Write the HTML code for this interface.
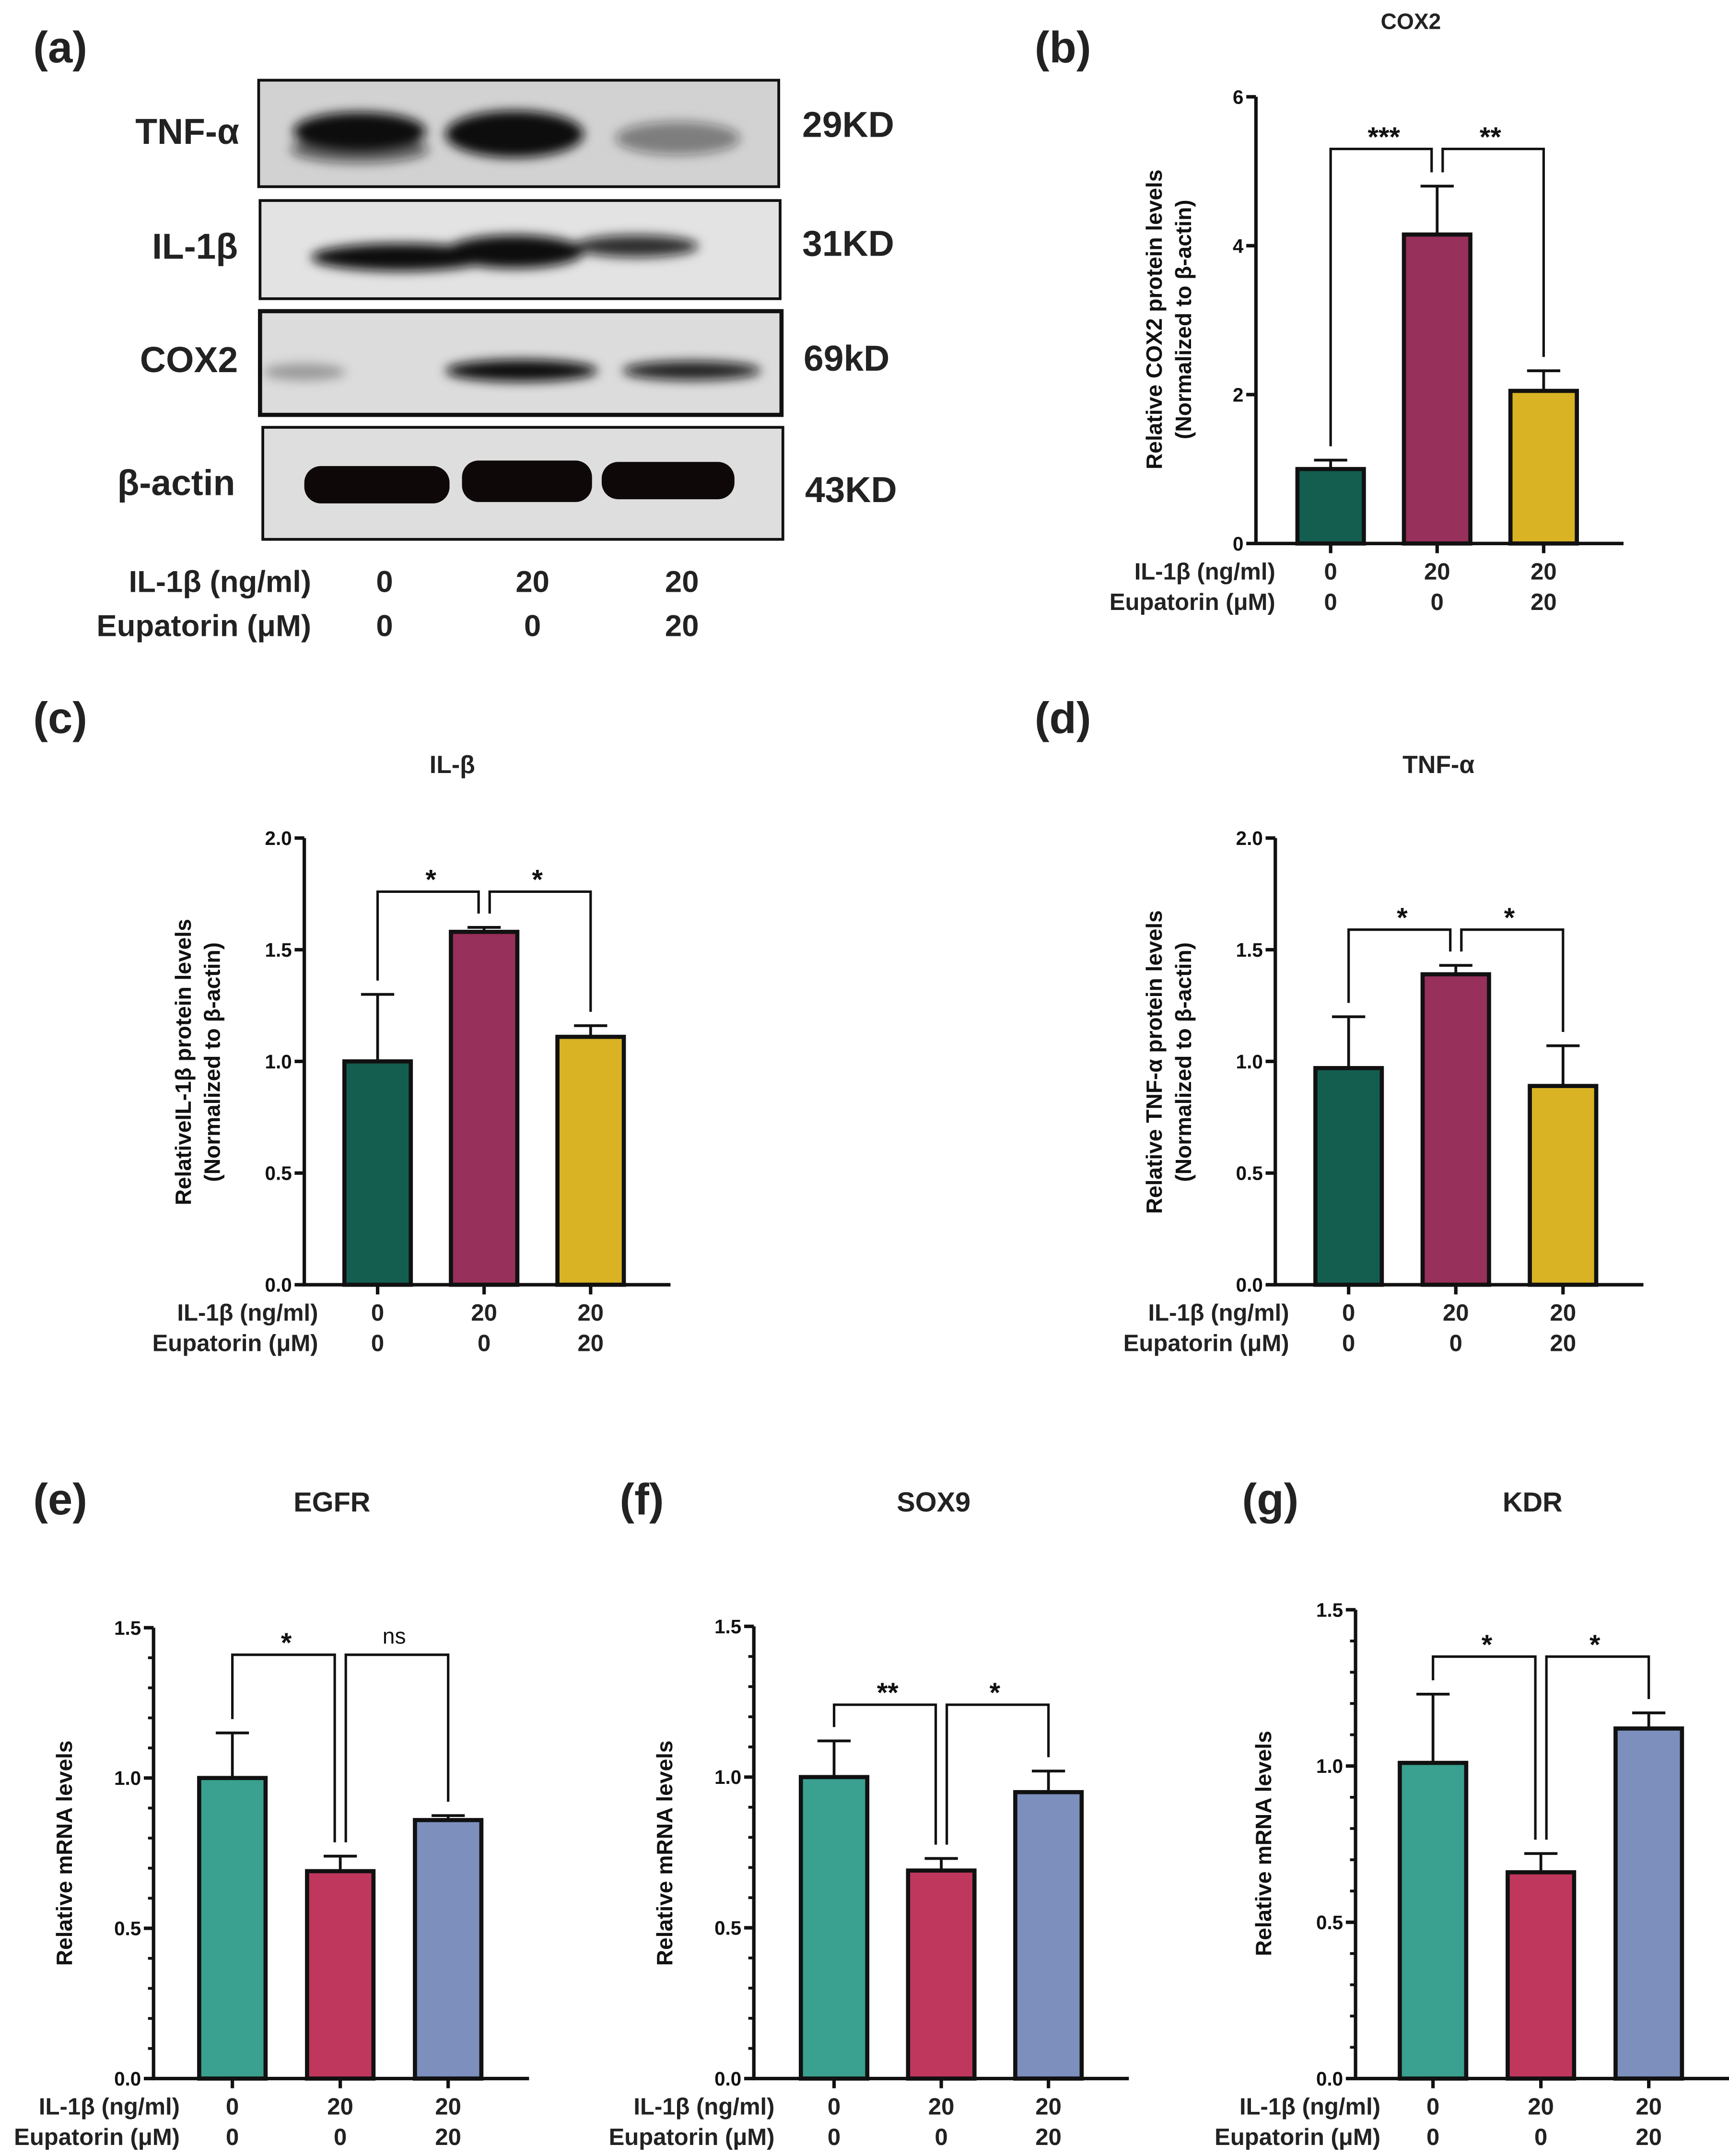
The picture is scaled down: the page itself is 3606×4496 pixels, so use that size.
<!DOCTYPE html>
<html><head><meta charset="utf-8"><style>
html,body{margin:0;padding:0;background:#fff;}
svg{display:block;font-family:"Liberation Sans",Arial,sans-serif;}
</style></head><body>
<svg id="fig" width="3606" height="4496" viewBox="0 0 1250 1559" preserveAspectRatio="none" xmlns="http://www.w3.org/2000/svg">
<defs>
<filter id="blur" x="-20%" y="-50%" width="140%" height="200%"><feGaussianBlur stdDeviation="4"/></filter>
<filter id="blur2" x="-20%" y="-50%" width="140%" height="200%"><feGaussianBlur stdDeviation="7"/></filter>
</defs>
<g font-weight="bold" fill="#222">
<text x="24" y="45" font-size="32">(a)</text>
<rect x="187" y="58" width="376" height="77" fill="#d2d2d2" stroke="#111" stroke-width="2"/>
<g filter="url(#blur)" fill="#111">
<ellipse cx="260" cy="95" rx="48" ry="14"/><ellipse cx="260" cy="108" rx="50" ry="10" opacity="0.6"/>
<ellipse cx="372" cy="97" rx="50" ry="17"/>
<ellipse cx="490" cy="100" rx="45" ry="12" opacity="0.45"/>
</g>
<rect x="188" y="145" width="376" height="71" fill="#e3e3e3" stroke="#111" stroke-width="2"/>
<g filter="url(#blur)" fill="#111">
<ellipse cx="290" cy="186" rx="65" ry="10"/><ellipse cx="372" cy="182" rx="50" ry="12"/><ellipse cx="460" cy="178" rx="45" ry="8" opacity="0.85"/>
</g>
<rect x="188" y="225" width="377" height="75" fill="#dcdcdc" stroke="#111" stroke-width="3"/>
<g filter="url(#blur)" fill="#111">
<ellipse cx="220" cy="269" rx="30" ry="6" opacity="0.3"/><ellipse cx="377" cy="268" rx="55" ry="8"/><ellipse cx="500" cy="268" rx="50" ry="7" opacity="0.9"/>
</g>
<rect x="190" y="309" width="376" height="81" fill="#dedede" stroke="#111" stroke-width="2"/>
<g fill="#0e0808">
<rect x="220" y="337" width="105" height="27" rx="12"/><rect x="334" y="333" width="94" height="30" rx="12"/><rect x="435" y="334" width="96" height="27" rx="12"/>
</g>
<g font-size="26" text-anchor="end">
<text x="173" y="104">TNF-α</text>
<text x="172" y="187">IL-1β</text>
<text x="172" y="269">COX2</text>
<text x="170" y="358">β-actin</text>
</g>
<g font-size="26">
<text x="580" y="99">29KD</text>
<text x="580" y="185">31KD</text>
<text x="581" y="268">69kD</text>
<text x="582" y="363">43KD</text>
</g>
<g font-size="22">
<text x="225" y="428" text-anchor="end">IL-1β (ng/ml)</text>
<text x="225" y="460" text-anchor="end">Eupatorin (μM)</text>
<g text-anchor="middle">
<text x="278" y="428">0</text><text x="385" y="428">20</text><text x="493" y="428">20</text>
<text x="278" y="460">0</text><text x="385" y="460">0</text><text x="493" y="460">20</text>
</g></g>
<text x="748" y="45" font-size="32">(b)</text>
<text x="24" y="530" font-size="32">(c)</text>
<text x="748" y="530" font-size="32">(d)</text>
<text x="24" y="1095" font-size="32">(e)</text>
<text x="448" y="1095" font-size="32">(f)</text>
<text x="898" y="1095" font-size="32">(g)</text>
</g>
<g id="charts"></g>
</svg>
<script>
// ---- data ----
const categories = ["ctrl", "il1b", "il1b_eup"];
const il1bDose = ["0", "20", "20"];
const eupDose = ["0", "0", "20"];
const cox2Values = [1.0, 4.15, 2.05];
const cox2Errors = [0.12, 0.65, 0.27];
const cox2Ticks = [0, 2, 4, 6];
const cox2Sig = ["***", "**"];
const il1bValues = [1.0, 1.58, 1.11];
const il1bErrors = [0.30, 0.02, 0.05];
const il1bTicks = ["0.0", "0.5", "1.0", "1.5", "2.0"];
const il1bSig = ["*", "*"];
const tnfValues = [0.97, 1.39, 0.89];
const tnfErrors = [0.23, 0.04, 0.18];
const tnfTicks = ["0.0", "0.5", "1.0", "1.5", "2.0"];
const tnfSig = ["*", "*"];
const egfrValues = [1.0, 0.69, 0.86];
const egfrErrors = [0.15, 0.05, 0.015];
const egfrSig = ["*", "ns"];
const sox9Values = [1.0, 0.69, 0.95];
const sox9Errors = [0.12, 0.04, 0.07];
const sox9Sig = ["**", "*"];
const kdrValues = [1.01, 0.66, 1.12];
const kdrErrors = [0.22, 0.06, 0.05];
const kdrSig = ["*", "*"];
const mrnaTicks = ["0.0", "0.5", "1.0", "1.5"];

const NS = "http://www.w3.org/2000/svg";
const root = document.getElementById("charts");
function mk(tag, attrs, parent, txt) {
  const e = document.createElementNS(NS, tag);
  for (const k in attrs) e.setAttribute(k, attrs[k]);
  if (txt !== undefined) e.textContent = txt;
  parent.appendChild(e);
  return e;
}
function chart(cfg) {
  const g = mk("g", {}, root);
  
  
  const ticks = cfg.ticks.map(Number);
  const ymax = ticks[ticks.length - 1];
  const y = v => cfg.bottom - (v / ymax) * (cfg.bottom - cfg.top);
  const x = i => cfg.cx0 + i * cfg.step;
  const xr = x(2) + cfg.step * 0.75;
  // axes
  const ax = mk("path", {d: `M${cfg.ax} ${cfg.top} V${cfg.bottom} H${xr}`, fill: "none", stroke: "#111", "stroke-width": 2.5}, g);
  
  
  // minor ticks
  if (cfg.minor) {
    const n = Math.round(ymax / cfg.minor);
    for (let k = 0; k <= n; k++) {
      mk("line", {x1: cfg.ax - 4, x2: cfg.ax, y1: y(k * cfg.minor), y2: y(k * cfg.minor), stroke: "#111", "stroke-width": 2}, g);
    }
  }
  cfg.ticks.forEach(t => {
    const v = Number(t);
    mk("line", {x1: cfg.ax - 7, x2: cfg.ax, y1: y(v), y2: y(v), stroke: "#111", "stroke-width": 2.5}, g);
    const tl = mk("text", {x: cfg.ax - 9, y: y(v) + 5, "text-anchor": "end", "font-size": 14, "font-weight": "bold", fill: "#111"}, g, t);
    
    
  });
  // bars
  cfg.values.forEach((v, i) => {
    const b = mk("rect", {x: x(i) - 24, y: y(v), width: 48, height: cfg.bottom - y(v), fill: cfg.colors[i], stroke: "#111", "stroke-width": 3}, g);
    
    
    const top = v + cfg.errors[i];
    const eb = mk("path", {d: `M${x(i)} ${y(v)} V${y(top)} M${x(i) - 12} ${y(top)} H${x(i) + 12}`, stroke: "#111", "stroke-width": 2, fill: "none"}, g);
    
    
    mk("line", {x1: x(i), x2: x(i), y1: cfg.bottom, y2: cfg.bottom + 7, stroke: "#111", "stroke-width": 2.5}, g);
    mk("text", {x: x(i), y: cfg.bottom + 26, "text-anchor": "middle", "font-size": 17, "font-weight": "bold", fill: "#222"}, g, il1bDose[i]);
    mk("text", {x: x(i), y: cfg.bottom + 48, "text-anchor": "middle", "font-size": 17, "font-weight": "bold", fill: "#222"}, g, eupDose[i]);
  });
  const r1 = mk("text", {x: cfg.lblX, y: cfg.bottom + 26, "text-anchor": "end", "font-size": 17, "font-weight": "bold", fill: "#222"}, g, "IL-1β (ng/ml)");
  
  
  const r2 = mk("text", {x: cfg.lblX, y: cfg.bottom + 48, "text-anchor": "end", "font-size": 17, "font-weight": "bold", fill: "#222"}, g, "Eupatorin (μM)");
  
  
  // significance brackets
  const by = y(cfg.bracket);
  const gap = 4;
  const tops = cfg.values.map((v, i) => y(v + cfg.errors[i]) - 10);
  const p1 = `M${x(0)} ${tops[0]} V${by} H${x(1) - gap} V${tops[1]}`;
  const p2 = `M${x(1) + gap} ${tops[1]} V${by} H${x(2)} V${tops[2]}`;
  [p1, p2].forEach((p, k) => {
    const br = mk("path", {d: p, fill: "none", stroke: "#111", "stroke-width": 1.8}, g);
    
    
    const mx = k === 0 ? (x(0) + x(1)) / 2 : (x(1) + x(2)) / 2;
    const s = cfg.sig[k];
    const st = mk("text", {x: mx, y: s === "ns" ? by - 8 : by - 2, "text-anchor": "middle", "font-size": s === "ns" ? 16 : 20, "font-weight": s === "ns" ? "normal" : "bold", fill: "#111"}, g, s);
    
    
  });
  // title
  const tt = mk("text", {x: cfg.titleX, y: cfg.titleY, "text-anchor": "middle", "font-size": cfg.titleSize, "font-weight": "bold", fill: "#222"}, g, cfg.title);
  
  
  // y label
  const cy = (cfg.top + cfg.bottom) / 2;
  cfg.ylab.forEach((l, k) => {
    const yl = mk("text", {x: 0, y: 0, transform: `translate(${cfg.ylabX + k * 21},${cfg.ylabY || cy}) rotate(-90)`, "text-anchor": "middle", "font-size": 16, "font-weight": "bold", fill: "#111"}, g, l);
    
    
  });
}
const darkCols = ["#145e50", "#97305a", "#d9b324"];
const mrnaCols = ["#3aa090", "#c0375e", "#7c8fbd"];
chart({name: "chart-cox2", ticks: cox2Ticks.map(String), values: cox2Values, errors: cox2Errors, sig: cox2Sig, bracket: 5.3,
  top: 70, bottom: 393, ax: 908, cx0: 962, step: 77, colors: darkCols, lblX: 922, title: "COX2", titleX: 1020, titleY: 21, titleSize: 16,
  ylab: ["Relative COX2 protein levels", "(Normalized to β-actin)"], ylabX: 840, ylabY: 231});
chart({name: "chart-il1b", ticks: il1bTicks, values: il1bValues, errors: il1bErrors, sig: il1bSig, bracket: 1.76,
  top: 606, bottom: 929, ax: 220, cx0: 273, step: 77, colors: darkCols, lblX: 230, title: "IL-β", titleX: 327, titleY: 559, titleSize: 18,
  ylab: ["RelativeIL-1β protein levels", "(Normalized to β-actin)"], ylabX: 138, ylabY: 768});
chart({name: "chart-tnf", ticks: tnfTicks, values: tnfValues, errors: tnfErrors, sig: tnfSig, bracket: 1.59,
  top: 606, bottom: 929, ax: 922, cx0: 975, step: 77.5, colors: darkCols, lblX: 932, title: "TNF-α", titleX: 1040, titleY: 559, titleSize: 18,
  ylab: ["Relative TNF-α protein levels", "(Normalized to β-actin)"], ylabX: 840, ylabY: 768});
chart({name: "chart-egfr", ticks: mrnaTicks, values: egfrValues, errors: egfrErrors, sig: egfrSig, bracket: 1.41, minor: 0.1,
  top: 1177, bottom: 1503, ax: 111, cx0: 168, step: 78, colors: mrnaCols, lblX: 130, title: "EGFR", titleX: 240, titleY: 1093, titleSize: 20,
  ylab: ["Relative mRNA levels"], ylabX: 52, ylabY: 1340});
chart({name: "chart-sox9", ticks: mrnaTicks, values: sox9Values, errors: sox9Errors, sig: sox9Sig, bracket: 1.24, minor: 0.1,
  top: 1176, bottom: 1503, ax: 545, cx0: 603, step: 77.5, colors: mrnaCols, lblX: 560, title: "SOX9", titleX: 675, titleY: 1093, titleSize: 20,
  ylab: ["Relative mRNA levels"], ylabX: 486, ylabY: 1340});
chart({name: "chart-kdr", ticks: mrnaTicks, values: kdrValues, errors: kdrErrors, sig: kdrSig, bracket: 1.35, minor: 0.1,
  top: 1164, bottom: 1503, ax: 980, cx0: 1036, step: 78, colors: mrnaCols, lblX: 998, title: "KDR", titleX: 1108, titleY: 1093, titleSize: 20,
  ylab: ["Relative mRNA levels"], ylabX: 919, ylabY: 1333});
</script>
</body></html>
